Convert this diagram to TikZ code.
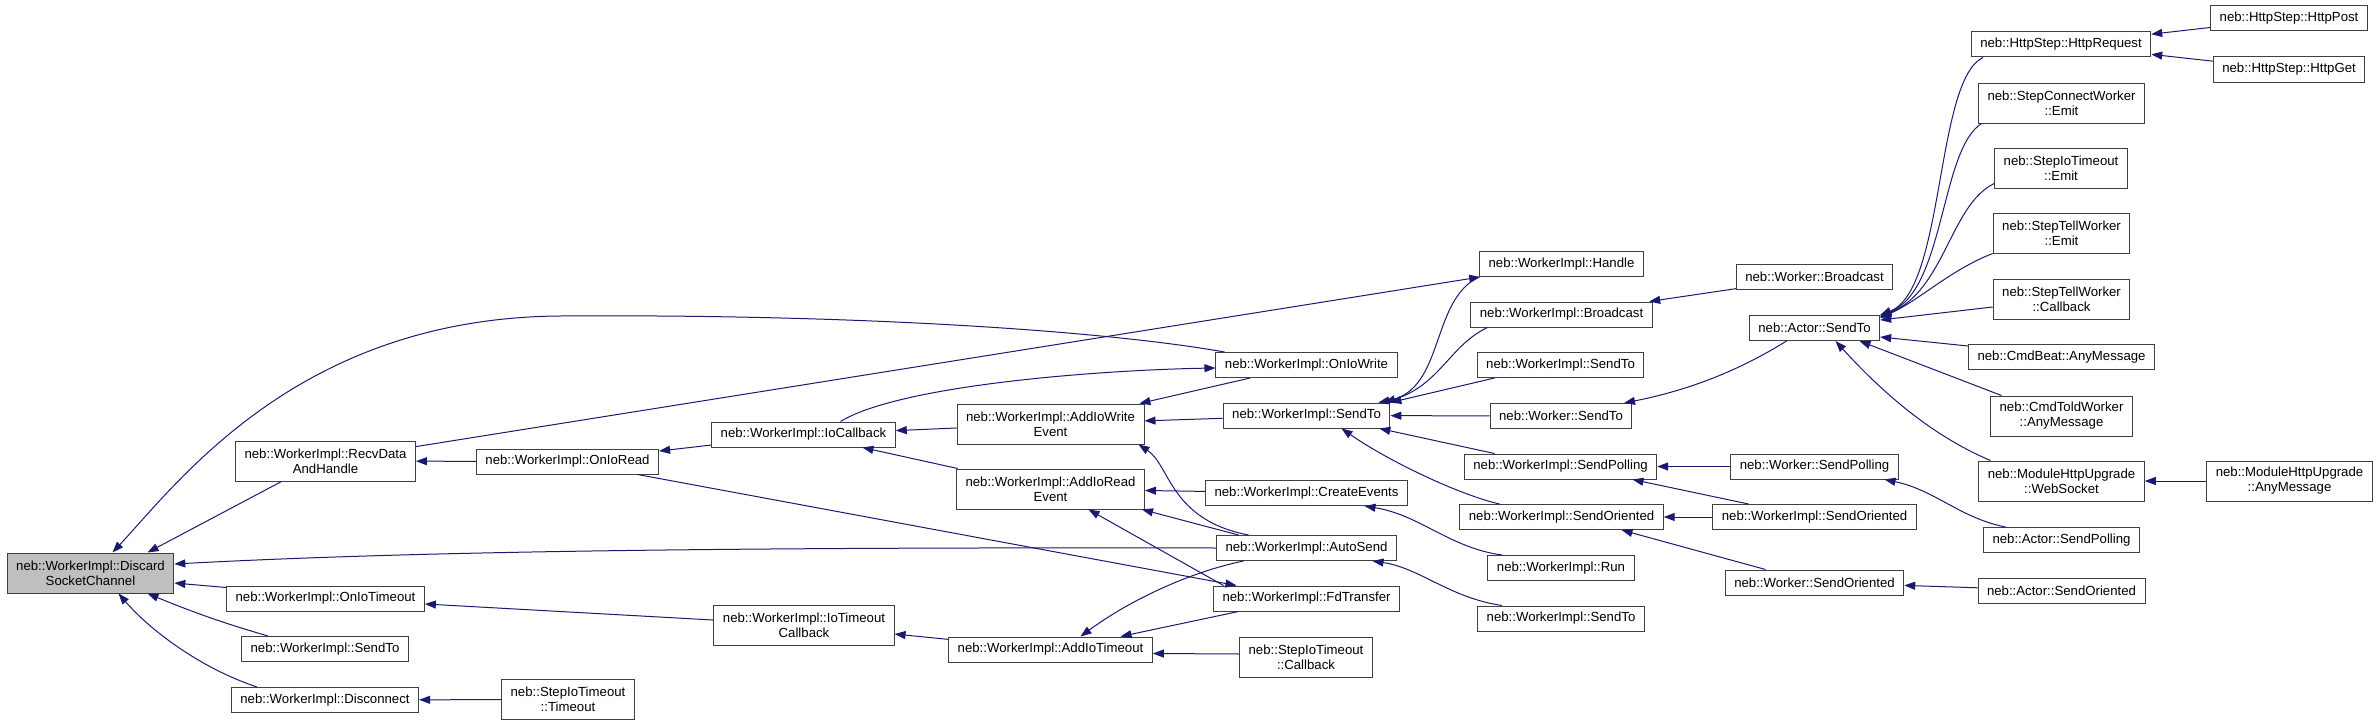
\documentclass[tikz,border=0pt]{standalone}
\usepackage{fontspec}
\setmainfont{Liberation Sans}
\usepackage{tikz}
\usetikzlibrary{arrows.meta,positioning}
\definecolor{cg-edge}{HTML}{191970}
\definecolor{cg-root}{HTML}{BFBFBF}
\definecolor{cg-frame}{HTML}{404040}

\begin{document}
\begin{tikzpicture}[x=1pt,y=-1pt,
    fnode/.style={draw=cg-frame, line width=1pt, rectangle, fill=white, align=center,
      font=\fontsize{13.2}{15}\selectfont, inner xsep=9pt, inner ysep=2pt, minimum height=25pt},
    fnode2/.style={fnode, minimum height=40pt},
    calledge/.style={{Triangle[length=11pt,width=8pt]}-, draw=cg-edge, line width=1pt}]
    \useasboundingbox (0,0) rectangle (2379,725);
    \node[fnode2, fill=cg-root] (dsc) at (90.5,573) {neb::WorkerImpl::Discard\\SocketChannel};
    \node[fnode2] (recv) at (325.5,461) {neb::WorkerImpl::RecvData\\AndHandle};
    \node[fnode] (ioread) at (567.5,461.5) {neb::WorkerImpl::OnIoRead};
    \node[fnode] (iotimeout) at (325.5,598.5) {neb::WorkerImpl::OnIoTimeout};
    \node[fnode] (sendtoa) at (325,649) {neb::WorkerImpl::SendTo};
    \node[fnode] (disconnect) at (325,700) {neb::WorkerImpl::Disconnect};
    \node[fnode2] (sitimeout) at (568,699.5) {neb::StepIoTimeout\\::Timeout};
    \node[fnode] (iocb) at (803.5,434.5) {neb::WorkerImpl::IoCallback};
    \node[fnode2] (iotcb) at (804,625) {neb::WorkerImpl::IoTimeout\\Callback};
    \node[fnode2] (addwrite) at (1050.5,424) {neb::WorkerImpl::AddIoWrite\\Event};
    \node[fnode2] (addread) at (1050.5,489) {neb::WorkerImpl::AddIoRead\\Event};
    \node[fnode] (addtimeout) at (1050.5,649.5) {neb::WorkerImpl::AddIoTimeout};
    \node[fnode] (iowrite) at (1306.5,365) {neb::WorkerImpl::OnIoWrite};
    \node[fnode] (sendto) at (1306.5,415.5) {neb::WorkerImpl::SendTo};
    \node[fnode] (createev) at (1306.5,493) {neb::WorkerImpl::CreateEvents};
    \node[fnode] (autosend) at (1306.5,548) {neb::WorkerImpl::AutoSend};
    \node[fnode] (fdtransfer) at (1306.5,598.5) {neb::WorkerImpl::FdTransfer};
    \node[fnode2] (sicb) at (1306,657) {neb::StepIoTimeout\\::Callback};
    \node[fnode] (handle) at (1561.5,264) {neb::WorkerImpl::Handle};
    \node[fnode] (wibcast) at (1561.5,314.5) {neb::WorkerImpl::Broadcast};
    \node[fnode] (sendtob) at (1560.5,365) {neb::WorkerImpl::SendTo};
    \node[fnode] (wsendto) at (1561,416) {neb::Worker::SendTo};
    \node[fnode] (wipolling) at (1560.5,466.5) {neb::WorkerImpl::SendPolling};
    \node[fnode] (wioriented) at (1561.5,517) {neb::WorkerImpl::SendOriented};
    \node[fnode] (run) at (1561,568) {neb::WorkerImpl::Run};
    \node[fnode] (sendtoc) at (1561,618.5) {neb::WorkerImpl::SendTo};
    \node[fnode] (wbcast) at (1814.5,277) {neb::Worker::Broadcast};
    \node[fnode] (asendto) at (1814.5,328) {neb::Actor::SendTo};
    \node[fnode] (wpolling) at (1814.5,466.5) {neb::Worker::SendPolling};
    \node[fnode] (wiorientedb) at (1814.5,517) {neb::WorkerImpl::SendOriented};
    \node[fnode] (woriented) at (1814.5,582.5) {neb::Worker::SendOriented};
    \node[fnode] (httpreq) at (2061,44.5) {neb::HttpStep::HttpRequest};
    \node[fnode2] (connemit) at (2061.5,103) {neb::StepConnectWorker\\::Emit};
    \node[fnode2] (sioemit) at (2061,168) {neb::StepIoTimeout\\::Emit};
    \node[fnode2] (tellemit) at (2061.5,233) {neb::StepTellWorker\\::Emit};
    \node[fnode2] (tellcb) at (2061.5,299) {neb::StepTellWorker\\::Callback};
    \node[fnode] (beatany) at (2061.5,357) {neb::CmdBeat::AnyMessage};
    \node[fnode2] (toldany) at (2061.5,416) {neb::CmdToldWorker\\::AnyMessage};
    \node[fnode2] (websocket) at (2061.5,481) {neb::ModuleHttpUpgrade\\::WebSocket};
    \node[fnode] (apolling) at (2061.5,540) {neb::Actor::SendPolling};
    \node[fnode] (aoriented) at (2061.5,590.5) {neb::Actor::SendOriented};
    \node[fnode] (httppost) at (2289,18.5) {neb::HttpStep::HttpPost};
    \node[fnode] (httpget) at (2289,69.5) {neb::HttpStep::HttpGet};
    \node[fnode2] (mhuany) at (2289.5,481) {neb::ModuleHttpUpgrade\\::AnyMessage};

    \draw[calledge] ([xshift=22pt]dsc.north) .. controls (180,480) and (300,318) .. (560,316) .. controls (850,314) and (1100,330) .. ([xshift=-82pt]iowrite.north);
    \draw[calledge] ([yshift=9pt]dsc.east) .. controls (400,552) and (700,547) .. (autosend.west);
    \draw[calledge] ([xshift=57pt]dsc.north) -- ([xshift=-44pt]recv.south);
    \draw[calledge] ([yshift=-10pt]dsc.east) -- ([yshift=11pt]iotimeout.west);
    \draw[calledge] ([xshift=57pt]dsc.south) .. controls (200,615) and (230,625) .. ([xshift=-57pt]sendtoa.north);
    \draw[calledge] ([xshift=28pt]dsc.south) .. controls (150,630) and (200,668) .. ([xshift=-68pt]disconnect.north);
    \draw[calledge] (recv) -- (ioread);
    \draw[calledge] (handle) -- (recv);
    \draw[calledge] (ioread) -- (iocb);
    \draw[calledge] (fdtransfer) -- (ioread);
    \draw[calledge] (iocb) -- (addwrite);
    \draw[calledge] (iocb) -- (addread);
    \draw[calledge] ([yshift=-3pt]iowrite.west) .. controls (1100,370) and (900,385) .. ([xshift=37pt]iocb.north);
    \draw[calledge] (addwrite) -- (iowrite);
    \draw[calledge] (addwrite) -- (sendto);
    \draw[calledge] ([xshift=88pt]addwrite.south) .. controls (1170,465) and (1170,520) .. ([xshift=-58pt]autosend.north);
    \draw[calledge] (addread) -- (createev);
    \draw[calledge] ([xshift=-3pt]addread.south east) -- ([xshift=-68pt]autosend.north);
    \draw[calledge] ([xshift=38pt]addread.south) -- ([xshift=-83pt]fdtransfer.north);
    \draw[calledge] ([xshift=30pt]addtimeout.north) .. controls (1130,600) and (1190,572) .. ([xshift=-63pt]autosend.south);
    \draw[calledge] ([xshift=70pt]addtimeout.north) -- ([xshift=-68pt]fdtransfer.south);
    \draw[calledge] ([yshift=-4pt]addtimeout.east) -- ([yshift=3pt]sicb.west);
    \draw[calledge] (iotcb) -- (addtimeout);
    \draw[calledge] (iotimeout) -- (iotcb);
    \draw[calledge] (disconnect) -- (sitimeout);
    \draw[calledge] ([xshift=-12pt]sendto.north east) .. controls (1445,390) and (1430,300) .. (handle.south west);
    \draw[calledge] ([xshift=-6pt]sendto.north east) .. controls (1440,385) and (1450,345) .. ([xshift=-74pt]wibcast.south);
    \draw[calledge] (sendto.north east) -- ([xshift=-66pt]sendtob.south);
    \draw[calledge] (sendto) -- (wsendto);
    \draw[calledge] ([xshift=-11pt]sendto.south east) -- ([xshift=-66pt]wipolling.north);
    \draw[calledge] ([xshift=35pt]sendto.south) .. controls (1390,462) and (1460,495) .. ([xshift=-62pt]wioriented.north);
    \draw[calledge] (wibcast) -- (wbcast);
    \draw[calledge] ([xshift=63pt]wsendto.north) .. controls (1690,390) and (1740,370) .. ([xshift=-28pt]asendto.south);
    \draw[calledge] (wipolling) -- (wpolling);
    \draw[calledge] ([xshift=72pt]wipolling.south) -- ([xshift=-66pt]wiorientedb.north);
    \draw[calledge] (wioriented) -- (wiorientedb);
    \draw[calledge] ([xshift=60pt]wioriented.south) -- ([xshift=-49pt]woriented.north);
    \draw[calledge] ([xshift=58pt]createev.south) .. controls (1420,515) and (1450,548) .. ([xshift=-59pt]run.north);
    \draw[calledge] ([xshift=66pt]autosend.south) .. controls (1420,568) and (1450,598) .. ([xshift=-59pt]sendtoc.north);
    \draw[calledge] ([xshift=70pt]wpolling.south) .. controls (1935,490) and (1960,518) .. ([xshift=-56pt]apolling.north);
    \draw[calledge] (woriented) -- (aoriented);
    \draw[calledge] (asendto.north east) .. controls (1945,290) and (1935,80) .. ([xshift=-78pt]httpreq.south);
    \draw[calledge] ([yshift=-1pt]asendto.north east) .. controls (1945,290) and (1940,150) .. ([xshift=-80pt]connemit.south);
    \draw[calledge] ([yshift=-2pt]asendto.north east) .. controls (1945,290) and (1950,205) .. ([yshift=5pt]sioemit.south west);
    \draw[calledge] ([yshift=-3pt]asendto.north east) .. controls (1920,300) and (1950,270) .. (tellemit.south west);
    \draw[calledge] ([yshift=-5pt]asendto.north east) -- ([yshift=-8pt]tellcb.west);
    \draw[calledge] ([yshift=-9pt]asendto.east) -- ([yshift=-2pt]beatany.north west);
    \draw[calledge] ([xshift=45pt]asendto.south) -- ([xshift=-60pt]toldany.north);
    \draw[calledge] ([xshift=21pt]asendto.south) .. controls (1880,390) and (1930,435) .. ([xshift=-71pt]websocket.north);
    \draw[calledge] (httpreq) -- (httppost);
    \draw[calledge] (httpreq) -- (httpget);
    \draw[calledge] (websocket) -- (mhuany);
\end{tikzpicture}
\end{document}
